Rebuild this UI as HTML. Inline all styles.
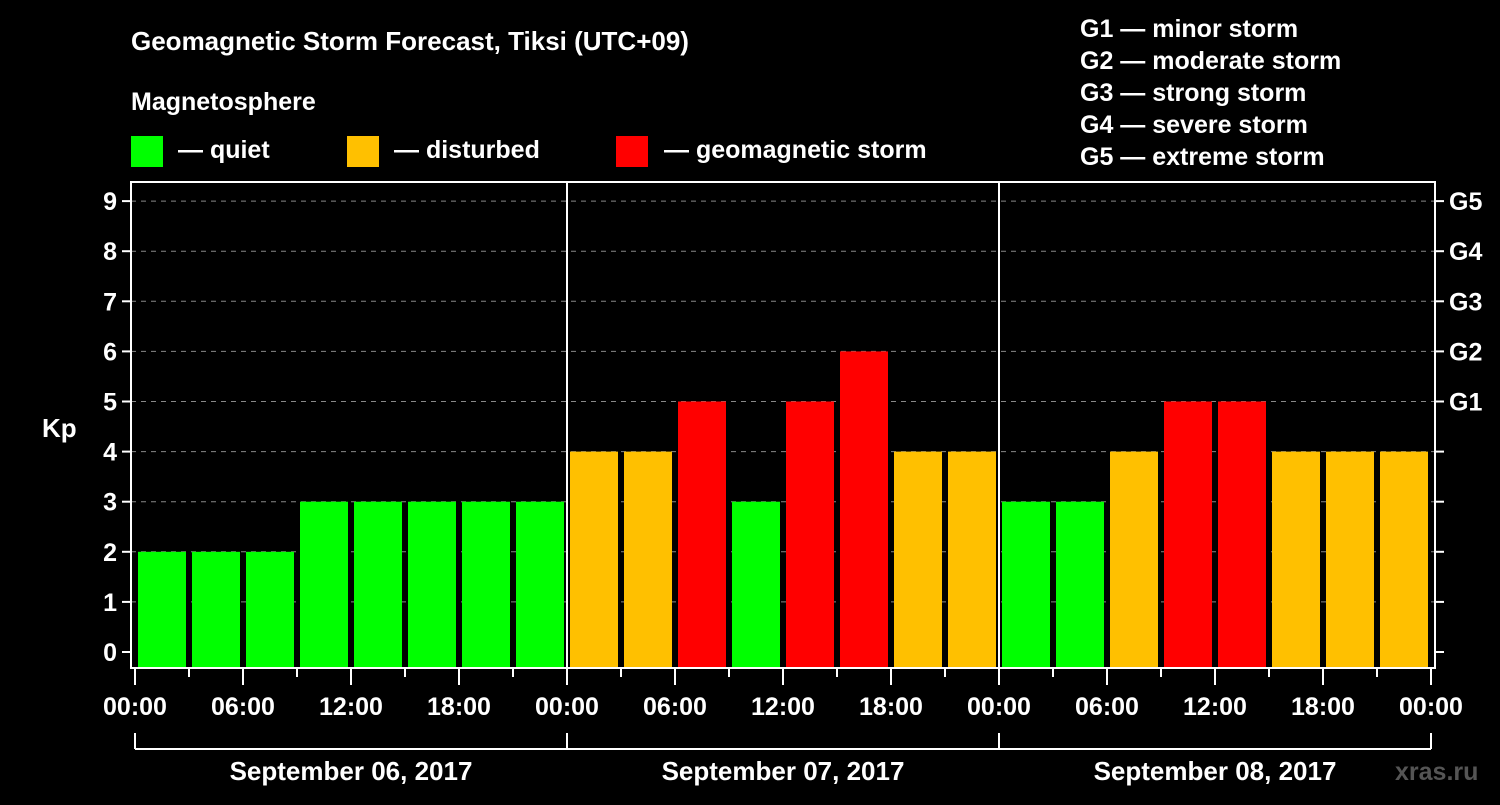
<!DOCTYPE html>
<html><head><meta charset="utf-8"><style>
body{margin:0;background:#000;width:1500px;height:800px;overflow:hidden}
svg text{font-family:"Liberation Sans",Arial,sans-serif;font-weight:bold;fill:#fff}
</style></head><body>
<svg id="chart" width="1500" height="800" xmlns="http://www.w3.org/2000/svg">
<text x="131" y="50" font-size="26">Geomagnetic Storm Forecast, Tiksi (UTC+09)</text>
<text x="131" y="110" font-size="25">Magnetosphere</text>
<rect x="131" y="136" width="32" height="31" fill="#00ff00"/>
<text x="178" y="158" font-size="25">— quiet</text>
<rect x="347" y="136" width="32" height="31" fill="#ffc000"/>
<text x="394" y="158" font-size="25">— disturbed</text>
<rect x="616" y="136" width="32" height="31" fill="#ff0000"/>
<text x="664" y="158" font-size="25">— geomagnetic storm</text>
<g font-size="25">
<text x="1080" y="37">G1 — minor storm</text>
<text x="1080" y="69">G2 — moderate storm</text>
<text x="1080" y="101">G3 — strong storm</text>
<text x="1080" y="133">G4 — severe storm</text>
<text x="1080" y="165">G5 — extreme storm</text>
</g>
<text x="42" y="437" font-size="26">Kp</text>
<text x="1395" y="780" font-size="25" style="fill:#555">xras.ru</text>
<g id="g"></g>
</svg>
<script>
const values=[2,2,2,3,3,3,3,3,4,4,5,3,5,6,4,4,3,3,4,5,5,4,4,4];
const yTicks=[0,1,2,3,4,5,6,7,8,9];
const gLabels=["G1","G2","G3","G4","G5"];
const xLabels=["00:00","06:00","12:00","18:00","00:00","06:00","12:00","18:00","00:00","06:00","12:00","18:00","00:00"];
const days=["September 06, 2017","September 07, 2017","September 08, 2017"];
const L=131,R=1435,T=182,B=668,X0=135,X1=1431;
const y=v=>652-v*50.1;
const x=h=>X0+(X1-X0)*h/72;
const g=document.getElementById('g');
const NS='http://www.w3.org/2000/svg';
function mk(t,a){const e=document.createElementNS(NS,t);for(const k in a)e.setAttribute(k,a[k]);g.appendChild(e);return e;}
yTicks.forEach(v=>{
 if(v>0){const l=mk('line',{x1:L,x2:R,y1:y(v),y2:y(v),stroke:'#888','stroke-dasharray':'5,5'});
 
 }
 mk('line',{x1:L-9,x2:L,y1:y(v),y2:y(v),stroke:'#fff','stroke-width':2});
 mk('line',{x1:R,x2:R+9,y1:y(v),y2:y(v),stroke:'#fff','stroke-width':2});
 const t=mk('text',{x:L-14,y:y(v)+9,'font-size':25,'text-anchor':'end'});t.textContent=v;
 
 
});
gLabels.forEach((s,i)=>{const t=mk('text',{x:R+14,y:y(5+i)+9,'font-size':25});t.textContent=s;
 
 });
values.forEach((v,i)=>{
 const c=v>=5?'#ff0000':v>=4?'#ffc000':'#00ff00';
 const r=mk('rect',{x:x(i*3)+3,y:y(v),width:48,height:B-y(v),fill:c});
 
 
});
[1,2].forEach(d=>{const l=mk('line',{x1:x(d*24),x2:x(d*24),y1:T,y2:B,stroke:'#fff','stroke-width':2});
 
 });
const fr=mk('rect',{x:L,y:T,width:R-L,height:B-T,fill:'none',stroke:'#fff','stroke-width':2});


for(let i=0;i<=24;i++){mk('line',{x1:x(i*3),x2:x(i*3),y1:B,y2:B+(i%2?9:17),stroke:'#fff','stroke-width':2});}
xLabels.forEach((s,i)=>{const t=mk('text',{x:x(i*6),y:715,'font-size':25,'text-anchor':'middle'});t.textContent=s;
 
 });
mk('line',{x1:X0,x2:X1,y1:749,y2:749,stroke:'#fff','stroke-width':2});
for(let d=0;d<=3;d++)mk('line',{x1:x(d*24),x2:x(d*24),y1:733,y2:749,stroke:'#fff','stroke-width':2});
days.forEach((s,i)=>{const t=mk('text',{x:x(i*24+12),y:780,'font-size':26,'text-anchor':'middle'});t.textContent=s;
 
 });
</script>
</body></html>
